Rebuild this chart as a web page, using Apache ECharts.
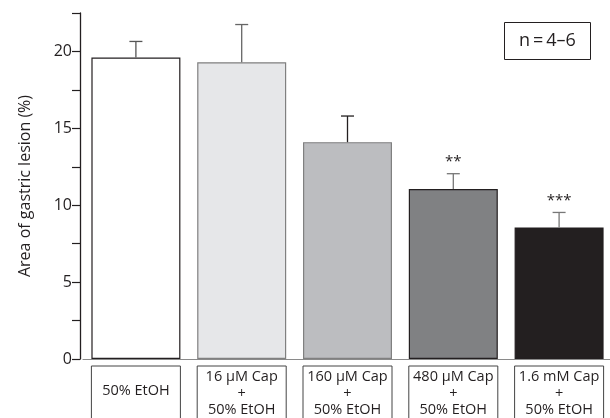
<!DOCTYPE html>
<html>
<head>
<meta charset="utf-8">
<script src="https://cdn.jsdelivr.net/npm/echarts@6/dist/echarts.min.js"></script>
<style>html,body{margin:0;padding:0;background:#fff}#c{width:610px;height:418px}</style>
</head>
<body>
<div id="c"></div>
<script>
var categories = ['50% EtOH', '16 \u03bcM Cap\n+\n50% EtOH', '160 \u03bcM Cap\n+\n50% EtOH', '480 \u03bcM Cap\n+\n50% EtOH', '1.6 mM Cap\n+\n50% EtOH'];
var means = [19.6, 19.3, 14.1, 11.05, 8.55];
var errors = [1.05, 2.45, 1.7, 1.0, 0.98];
var stars = ['', '', '', '**', '***'];
var yTicks = [0, 5, 10, 15, 20];

var fillColors = ['#ffffff', '#e6e7e9', '#bcbdc0', '#808183', '#231f20'];
var borderColors = ['#231f20', '#808080', '#808080', '#231f20', '#231f20'];
var errColors = ['#555555', '#666666', '#231f20', '#777777', '#777777'];
var FONT = 'Open Sans';

var chart = echarts.init(document.getElementById('c'));
var catData = categories.map(function (c, i) {
  var item = { value: c };
  if (c.indexOf('\n') < 0) {
    item.textStyle = { padding: [17, 0, 0, 0], height: 43 };
  }
  return item;
});
var barData = means.map(function (v, i) {
  return { value: v, itemStyle: { color: fillColors[i], borderColor: borderColors[i], borderWidth: 1.2 } };
});
var errData = means.map(function (v, i) { return [i, v, errors[i]]; });

chart.setOption({
  animation: false,
  textStyle: { fontFamily: FONT },
  title: {
    text: 'n\u2009=\u20094\u20136',
    left: 504, top: 22,
    borderColor: '#231f20', borderWidth: 1,
    padding: [9, 15, 9, 15],
    textStyle: { fontFamily: FONT, fontSize: 18, lineHeight: 20, fontWeight: 'normal', color: '#231f20' }
  },
  grid: { left: 83, right: -2, top: 13, bottom: 59, containLabel: false, outerBoundsMode: 'none' },
  xAxis: {
    type: 'category',
    data: catData,
    axisLine: { lineStyle: { color: '#8a8a8a', width: 1.2 } },
    axisTick: { show: false },
    axisLabel: {
      interval: 0, margin: 7,
      fontFamily: FONT, fontSize: 14.5, color: '#231f20',
      lineHeight: 16.5,
      width: 89, height: 57,
      padding: [3, 0, 0, 0],
      align: 'center', verticalAlign: 'top',
      borderColor: '#444', borderWidth: 1,
      overflow: 'none'
    }
  },
  yAxis: {
    type: 'value', min: 0, max: 22.5, interval: 2.5,
    offset: 3,
    name: 'Area of gastric lesion (%)',
    nameLocation: 'middle', nameGap: 47,
    nameTextStyle: { fontFamily: FONT, fontSize: 16, color: '#231f20' },
    axisLine: { show: true, lineStyle: { color: '#231f20', width: 1.3 } },
    axisTick: { show: true, length: 8, lineStyle: { color: '#231f20', width: 1.2 } },
    axisLabel: {
      margin: 8, fontFamily: FONT, fontSize: 16, color: '#231f20',
      formatter: function (v) { return yTicks.indexOf(v) >= 0 ? String(v) : ''; }
    },
    splitLine: { show: false }
  },
  series: [
    { type: 'bar', data: barData, barWidth: 89 },
    {
      type: 'custom',
      data: errData,
      z: 5,
      renderItem: function (params, api) {
        var i = api.value(0), m = api.value(1), e = api.value(2);
        var base = api.coord([i, m]);
        var top = api.coord([i, m + e]);
        var col = errColors[params.dataIndex];
        var children = [
          { type: 'line', shape: { x1: base[0], y1: base[1], x2: top[0], y2: top[1] }, style: { stroke: col, lineWidth: 1.3 } },
          { type: 'line', shape: { x1: top[0] - 6.5, y1: top[1], x2: top[0] + 6.5, y2: top[1] }, style: { stroke: col, lineWidth: 1.3 } }
        ];
        var s = stars[params.dataIndex];
        if (s) {
          children.push({ type: 'text', style: { text: s, x: top[0], y: top[1] - 12, align: 'center', verticalAlign: 'middle', fontFamily: FONT, fontSize: 15, fill: '#231f20' } });
        }
        return { type: 'group', children: children };
      }
    }
  ]
});
</script>
</body>
</html>
